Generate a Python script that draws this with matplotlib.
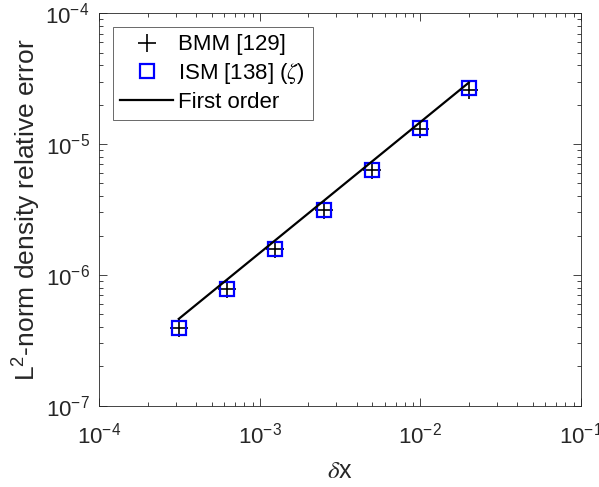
import matplotlib
matplotlib.use("Agg")
import matplotlib.pyplot as plt
import numpy as np

# grid spacing values
dx = [0.0003125, 0.000625, 0.00125, 0.0025, 0.005, 0.01, 0.02]

# L2-norm density relative error
err_bmm = [3.94e-7, 7.8e-7, 1.57e-6, 3.15e-6, 6.34e-6, 1.31e-5, 2.58e-5]
err_ism = [3.94e-7, 7.8e-7, 1.57e-6, 3.15e-6, 6.34e-6, 1.32e-5, 2.70e-5]

# first order reference line: err = ref_coef * dx
ref_coef = 1.475e-3

plt.rcParams['font.family'] = ['Liberation Sans', 'DejaVu Sans']
plt.rcParams['mathtext.fontset'] = 'stix'
plt.rcParams['mathtext.default'] = 'regular'

txt = '#262626'

fig = plt.figure(figsize=(5.99, 4.87), dpi=100)
ax = fig.add_axes([0.1658, 0.167, 0.8042, 0.8057])

dx_arr = np.array(dx)
ax.plot(dx, err_bmm, linestyle='none', marker='+', color='black',
        markersize=13, markeredgewidth=1.2, label='BMM [129]')
ax.plot(dx, err_ism, linestyle='none', marker='s', color='#0000ff',
        markerfacecolor='none', markersize=10, markeredgewidth=1.6,
        label=r'ISM [138] ($\mathit{\zeta}$)')
ax.plot(dx_arr, ref_coef * dx_arr, color='black', linewidth=1.6,
        label='First order')

ax.set_xscale('log')
ax.set_yscale('log')
ax.set_xlim(1e-4, 1e-1)
ax.set_ylim(1e-7, 1e-4)

ax.tick_params(which='both', direction='in', top=True, right=True,
               colors=txt, labelsize=16, width=0.6)
ax.tick_params(which='major', length=6, pad=7)
ax.tick_params(which='minor', length=3)
ax.tick_params(axis='x', which='major', pad=12)
for s in ax.spines.values():
    s.set_color(txt)
    s.set_linewidth(0.6)

ax.set_xlabel(r'$\mathit{\delta}$x', fontsize=18, color=txt, labelpad=8)
ax.set_ylabel(r'L$^2$-norm density relative error', fontsize=19, color=txt,
              labelpad=2)

leg = ax.legend(loc='upper left', fontsize=16, frameon=True, fancybox=False,
                edgecolor=txt, handlelength=2.35, handletextpad=0.25,
                borderpad=0.35, labelspacing=0.25, borderaxespad=0.6)
leg.get_frame().set_linewidth(0.6)

fig.savefig('out.png', dpi=100)
